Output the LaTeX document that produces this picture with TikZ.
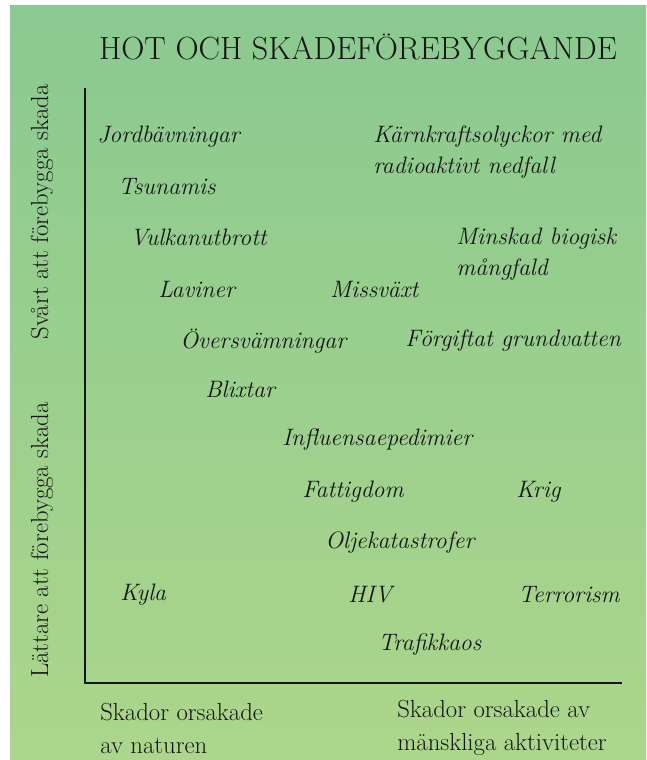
\documentclass[tikz,border=0pt]{standalone}
\usepackage{tikz}
\usetikzlibrary{positioning, backgrounds}
\definecolor{gronTopp}{RGB}{138,201,144}
\definecolor{gronBotten}{RGB}{172,214,139}
\definecolor{tekst}{RGB}{20,20,20}
\tikzset{%
	hot/.style={inner sep=0mm, anchor=west, align=left, text=tekst,%
		font=\fontsize{16.9}{22.5}\selectfont\itshape},
	axtext/.style={inner sep=0mm, align=left, text=tekst,%
		font=\fontsize{17.6}{23.5}\selectfont},
	rubrik/.style={inner sep=0mm, text=tekst, font=\fontsize{22.8}{26}\selectfont},
	axel/.style={line width=2.1pt, tekst}
}

\begin{document}
\begin{tikzpicture}[x=0.025cm, y=-0.025cm]
	\useasboundingbox (0,0) rectangle (646,760);
	\fill[white] (0,0) rectangle (646,760);
	\shade[top color=gronTopp, bottom color=gronBotten] (10,6) rectangle (646,760);

	\node[rubrik] (titel) at (358,47) {HOT OCH SKADEFÖREBYGGANDE};

	\coordinate (ytop) at (85,88);
	\coordinate (origo) at (85,683);
	\coordinate (xslut) at (622,683);
	\draw[axel] (ytop) -- (origo) -- (xslut);

	\node[axtext, rotate=90] (svart) at (42,212) {Svårt att förebygga skada};
	\node[axtext, rotate=90] (lattare) at (42,540) {Lättare att förebygga skada};
	\node[axtext, anchor=west] (natur) at (100,728) {Skador orsakade\\av naturen};
	\node[axtext, anchor=west] (mansklig) at (397,728) {Skador orsakade av\\mänskliga aktiviteter};

	\node[hot] (jord) at (97,137) {Jordbävningar};
	\node[hot] (karn) at (373,152) {Kärnkraftsolyckor med\\radioaktivt nedfall};
	\node[hot] (tsunami) at (118,187) {Tsunamis};
	\node[hot] (vulkan) at (130,238) {Vulkanutbrott};
	\node[hot] (bio) at (456,254) {Minskad biogisk\\mångfald};
	\node[hot] (lavin) at (158,290) {Laviner};
	\node[hot] (missvaxt) at (330,290) {Missväxt};
	\node[hot] (oversvam) at (180,341) {Översvämningar};
	\node[hot] (grundvatten) at (405,341) {Förgiftat grundvatten};
	\node[hot] (blixt) at (205,389) {Blixtar};
	\node[hot] (influensa) at (282,440) {Influensaepedimier};
	\node[hot] (fattig) at (302,492) {Fattigdom};
	\node[hot] (krig) at (516,492) {Krig};
	\node[hot] (olja) at (325,543) {Oljekatastrofer};
	\node[hot] (kyla) at (120,595) {Kyla};
	\node[hot] (hiv) at (348,595) {HIV};
	\node[hot] (terror) at (518,595) {Terrorism};
	\node[hot] (trafik) at (378,645) {Trafikkaos};
\end{tikzpicture}
\end{document}
